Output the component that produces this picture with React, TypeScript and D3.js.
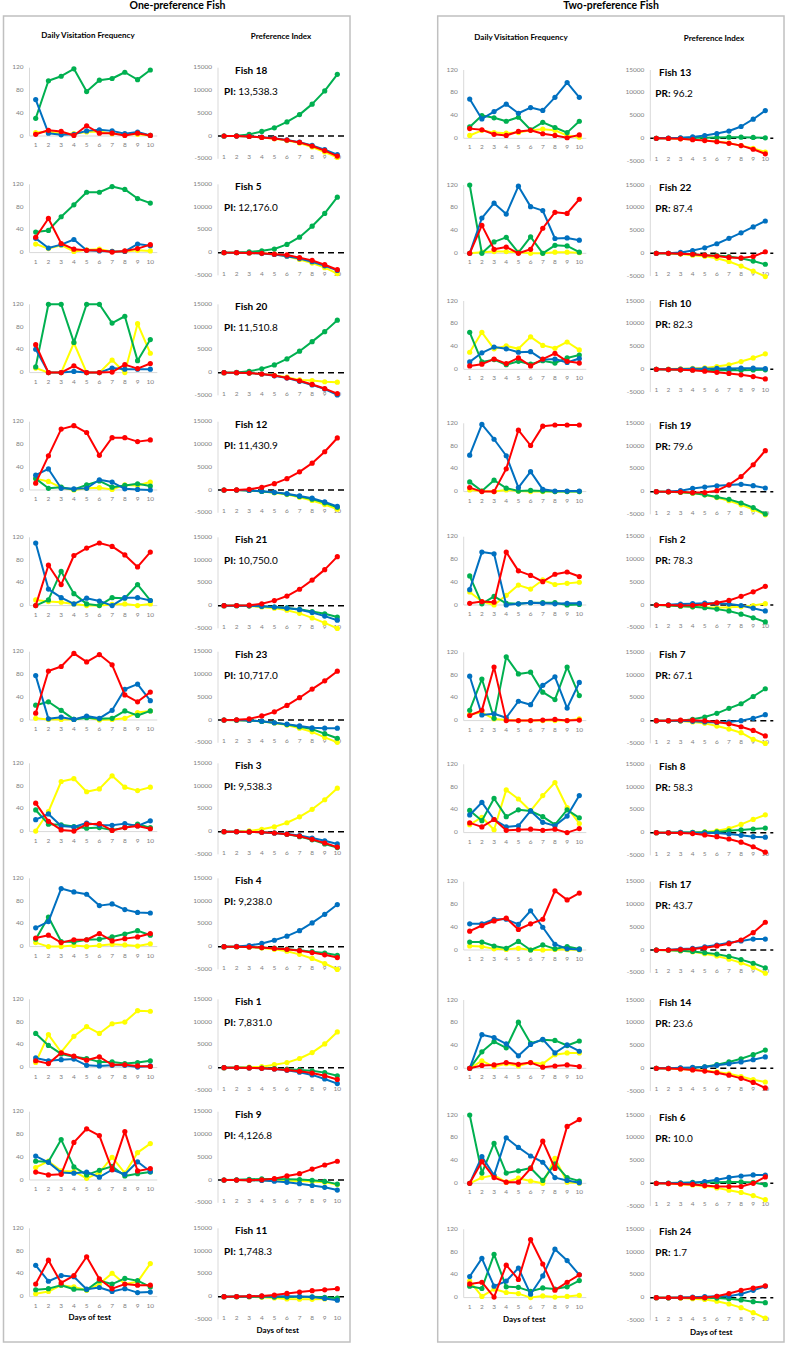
import React from "react";
import * as d3 from "d3";

const days = [1, 2, 3, 4, 5, 6, 7, 8, 9, 10];
const dvfTicks = [0, 40, 80, 120];
const piTicks = [-5000, 0, 5000, 10000, 15000];

const leftFish = ["Fish 18", "Fish 5", "Fish 20", "Fish 12", "Fish 21", "Fish 23", "Fish 3", "Fish 4", "Fish 1", "Fish 9", "Fish 11"];
const leftIndex = ["13,538.3", "12,176.0", "11,510.8", "11,430.9", "10,750.0", "10,717.0", "9,538.3", "9,238.0", "7,831.0", "4,126.8", "1,748.3"];
const rightFish = ["Fish 13", "Fish 22", "Fish 10", "Fish 19", "Fish 2", "Fish 7", "Fish 8", "Fish 17", "Fish 14", "Fish 6", "Fish 24"];
const rightIndex = ["96.2", "87.4", "82.3", "79.6", "78.3", "67.1", "58.3", "43.7", "23.6", "10.0", "1.7"];

// rows: left fish (18,5,20,12,21,23,3,4,1,9,11) then right fish (13,22,10,19,2,7,8,17,14,6,24)
const dvfBlue = [
  [64,5,2,3,9,11,9,4,7,1],
  [25,8,14,23,4,3,2,2,15,12],
  [41,0,0,2,0,0,8,6,6,6],
  [26,37,3,2,3,18,14,2,1,0],
  [110,29,14,3,13,8,0,14,14,9],
  [78,2,5,1,7,3,17,54,63,34],
  [21,31,10,8,15,11,11,14,10,19],
  [33,44,102,96,92,72,75,65,60,59],
  [17,12,14,15,4,3,4,4,1,3],
  [42,31,13,12,14,5,18,10,32,15],
  [55,27,37,35,13,16,9,14,7,8],
  [69,34,47,60,44,54,49,72,98,72],
  [0,62,88,69,118,82,75,26,27,23],
  [13,29,39,36,30,31,17,18,12,19],
  [64,118,92,63,7,35,4,1,1,1],
  [27,93,90,0,2,4,3,2,3,3],
  [78,10,12,5,34,28,62,77,22,67],
  [31,53,23,10,12,38,18,12,29,65],
  [46,46,54,54,45,69,40,10,2,1],
  [0,59,54,43,22,42,51,27,41,30],
  [0,47,14,80,63,48,37,10,5,1],
  [37,69,20,29,52,6,38,85,65,40],
];
const dvfGreen = [
  [31,97,105,118,78,98,101,112,99,116],
  [36,39,63,84,106,106,116,111,95,87],
  [10,120,120,53,120,120,87,99,21,58],
  [20,3,5,1,9,16,5,8,11,7],
  [0,10,60,21,3,0,14,13,37,9],
  [26,32,17,1,4,2,3,16,8,16],
  [38,13,12,9,6,7,3,7,13,7],
  [13,52,9,8,12,13,17,22,28,20],
  [60,39,24,19,16,10,10,7,9,12],
  [33,32,71,23,9,17,24,7,11,14],
  [12,14,20,13,12,28,22,32,28,17],
  [20,40,36,30,37,15,28,19,10,30],
  [120,0,20,28,1,29,0,14,13,2],
  [65,13,17,8,14,9,15,11,20,25],
  [17,1,20,6,1,2,1,0,0,0],
  [51,2,15,3,2,4,4,4,0,1],
  [18,73,4,112,82,85,50,37,94,44],
  [39,21,60,28,40,38,28,14,40,26],
  [14,14,7,3,15,0,9,2,6,2],
  [0,29,47,36,81,44,50,49,40,48],
  [120,18,70,18,22,27,5,34,10,4],
  [20,16,76,19,18,11,17,15,19,30],
];
const dvfYellow = [
  [6,8,4,4,7,8,4,3,3,1],
  [15,7,13,2,5,6,2,2,4,3],
  [8,0,0,52,0,0,22,0,86,34],
  [20,15,4,0,3,4,1,9,8,14],
  [10,7,6,3,0,0,2,3,0,3],
  [3,1,1,1,5,0,1,3,13,16],
  [1,35,88,93,70,75,98,78,72,78],
  [7,0,0,2,0,2,4,3,1,5],
  [9,58,27,55,72,60,77,80,100,99],
  [22,33,16,15,3,13,40,12,48,64],
  [5,9,20,17,11,22,41,22,26,58],
  [5,14,10,9,10,14,16,14,5,2],
  [0,2,3,3,2,0,0,2,2,1],
  [30,65,36,41,36,57,42,37,48,34],
  [3,1,0,3,1,0,0,0,0,0],
  [23,6,0,17,35,28,44,36,38,40],
  [11,14,3,1,0,0,0,0,0,3],
  [14,27,5,75,59,38,65,88,44,16],
  [7,6,2,1,3,0,0,1,1,0],
  [0,13,3,8,4,10,8,24,27,27],
  [0,10,14,2,9,4,0,44,2,0],
  [29,2,15,9,7,0,3,1,2,4],
];
const dvfRed = [
  [3,10,8,1,18,5,5,1,5,1],
  [27,60,16,6,4,4,1,3,7,14],
  [49,0,0,12,0,0,1,14,7,16],
  [12,60,107,113,101,61,92,92,85,88],
  [0,71,37,88,101,110,104,89,68,94],
  [12,86,94,117,102,115,97,44,32,49],
  [50,18,3,1,13,14,2,7,10,5],
  [15,20,7,12,12,23,10,14,17,23],
  [12,7,26,20,13,19,5,5,3,2],
  [14,9,10,66,90,78,18,85,16,20],
  [22,64,24,37,70,31,14,22,20,20],
  [17,15,7,5,12,14,8,5,1,6],
  [0,49,7,11,0,7,44,72,70,95],
  [6,9,18,10,20,6,18,28,14,11],
  [7,0,0,40,108,81,115,117,117,117],
  [3,6,5,93,60,52,41,54,58,50],
  [9,18,94,0,0,0,1,2,0,1],
  [17,10,23,4,5,6,4,6,0,7],
  [33,43,51,56,36,46,54,104,88,100],
  [0,5,6,10,7,10,2,4,6,3],
  [0,38,10,2,2,26,74,26,100,112],
  [24,27,1,57,32,102,59,13,27,40],
];

const piBlue = [
  [0,-20,-80,-250,-500,-850,-1350,-2050,-3000,-4100],
  [0,-20,-80,-200,-400,-800,-1300,-2000,-2900,-3900],
  [0,-20,-100,-300,-700,-1200,-1900,-2700,-3600,-4900],
  [0,-20,-100,-250,-500,-800,-1300,-1800,-2600,-3600],
  [0,0,-50,-150,-300,-550,-900,-1500,-2300,-3200],
  [0,-20,-80,-250,-600,-900,-1300,-1700,-1800,-1800],
  [0,-20,-60,-150,-300,-500,-850,-1400,-2000,-2700],
  [0,50,250,700,1400,2300,3500,5200,7100,9238],
  [0,-20,-60,-150,-300,-600,-1000,-1600,-2500,-3500],
  [0,0,-50,-100,-250,-500,-800,-1200,-1600,-2200],
  [0,20,50,100,100,100,50,-100,-400,-800],
  [0,50,100,300,600,1050,1600,2600,4200,6100],
  [0,20,200,600,1200,2100,3300,4500,5800,7100],
  [0,0,50,100,150,200,200,250,250,150],
  [0,50,200,700,1000,1280,1450,1600,1300,800],
  [0,50,200,300,400,400,200,-100,-700,-1300],
  [0,0,-50,-150,-300,-400,-300,0,500,1300],
  [0,0,50,0,-100,-100,-300,-600,-900,-1000],
  [0,50,200,350,700,1100,1600,2000,2400,2400],
  [0,0,100,200,300,650,1000,1400,1900,2500],
  [0,0,50,100,400,800,1300,1600,1850,1800],
  [0,0,50,100,200,300,300,800,1600,2500],
];
const piGreen = [
  [0,50,350,1000,1800,3100,4700,7000,9900,13538],
  [0,30,150,400,800,1800,3400,5800,8600,12176],
  [0,50,300,850,1700,3000,4700,6800,9000,11511],
  [0,-20,-100,-300,-550,-900,-1400,-2000,-2800,-3800],
  [0,0,-50,-150,-300,-500,-800,-1300,-1800,-2500],
  [0,-30,-100,-300,-600,-1000,-1500,-2000,-3000,-4000],
  [0,-20,-60,-150,-300,-600,-1100,-1800,-2700,-3500],
  [0,-20,-80,-200,-350,-550,-800,-1100,-1400,-1900],
  [0,-10,-50,-100,-200,-350,-500,-700,-1100,-1800],
  [0,50,150,250,200,150,100,-50,-300,-900],
  [0,0,-20,-50,-100,-100,-50,-50,-150,-300],
  [0,0,50,100,150,200,250,250,200,100],
  [0,0,-100,-200,-400,-500,-700,-1100,-1700,-2400],
  [0,-50,-100,-150,-200,-200,-200,-200,-150,-100],
  [0,-50,-150,-300,-700,-1200,-1700,-2500,-3500,-4900],
  [0,-100,-250,-400,-600,-900,-1300,-2000,-2800,-3700],
  [0,0,0,300,800,1600,2700,3700,5300,7000],
  [0,0,50,50,100,150,400,600,800,1000],
  [0,-50,-150,-300,-600,-900,-1400,-2100,-2900,-3900],
  [0,0,50,150,350,800,1400,2100,3000,4000],
  [0,50,100,200,200,250,300,300,200,-300],
  [0,-50,0,0,-50,-100,-250,-500,-900,-1100],
];
const piYellow = [
  [0,-20,-100,-300,-600,-1000,-1550,-2400,-3500,-4700],
  [0,-20,-80,-150,-350,-800,-1500,-2300,-3300,-4600],
  [0,-20,-100,-300,-600,-1000,-1600,-1750,-2000,-2100],
  [0,-20,-100,-300,-600,-1000,-1600,-2300,-3200,-4200],
  [0,-30,-100,-300,-550,-1000,-1700,-2700,-3800,-5000],
  [0,-30,-100,-300,-650,-1100,-1800,-2600,-3800,-4900],
  [0,30,150,500,1050,1950,3250,4900,7000,9538],
  [0,-30,-100,-300,-600,-1000,-1700,-2600,-3700,-5000],
  [0,30,100,200,650,1100,2000,3300,5200,7831],
  [0,0,-50,-50,-100,-150,-200,-300,-500,-1000],
  [0,-20,-50,-150,-300,-500,-550,-600,-500,-400],
  [0,-10,-80,-250,-450,-700,-1050,-1600,-2200,-3000],
  [0,-50,-150,-400,-650,-1100,-1800,-2800,-3900,-5100],
  [0,50,100,200,300,600,1000,1700,2500,3400],
  [0,-50,-150,-350,-700,-1300,-2000,-2900,-3900,-5100],
  [0,-50,-200,-400,-500,-600,-500,-400,-100,300],
  [0,-50,-100,-300,-600,-1200,-1850,-2650,-4100,-5000],
  [0,0,-50,50,150,400,900,1800,2900,3900],
  [0,-50,-150,-400,-800,-1300,-2000,-2800,-3800,-5100],
  [0,-50,-150,-300,-500,-800,-1200,-1800,-2500,-3000],
  [0,-50,-200,-350,-600,-1000,-1500,-2000,-2700,-3600],
  [0,-50,-100,-250,-400,-800,-1400,-2200,-3300,-4500],
];
const piRed = [
  [0,-20,-100,-300,-550,-900,-1400,-2200,-3200,-4400],
  [0,-20,-80,-150,-350,-500,-1100,-1700,-2650,-3750],
  [0,-20,-100,-300,-650,-1150,-1800,-2600,-3500,-4600],
  [0,30,150,600,1400,2500,4000,5900,8400,11431],
  [0,30,100,400,1100,2100,3600,5600,7900,10750],
  [0,50,250,900,1800,3200,4900,6800,8600,10717],
  [0,-20,-60,-150,-300,-550,-1000,-1700,-2500,-3400],
  [0,-20,-80,-200,-400,-600,-900,-1300,-1800,-2400],
  [0,-20,-60,-150,-300,-500,-800,-1200,-1800,-2600],
  [0,0,-50,50,300,900,1400,2400,3300,4127],
  [0,20,80,150,350,700,1000,1300,1500,1748],
  [0,-20,-100,-300,-500,-750,-1100,-1600,-2400,-3400],
  [0,0,-100,-200,-400,-600,-900,-1000,-700,350],
  [0,-50,-100,-200,-400,-650,-900,-1200,-1600,-2100],
  [0,-50,-100,-200,-200,200,1500,3300,5900,9000],
  [0,-20,-100,-50,100,500,1000,1900,2900,4100],
  [0,0,100,100,-50,-300,-700,-1350,-2150,-3350],
  [0,-50,-100,-200,-500,-900,-1400,-2100,-3100,-4300],
  [0,0,100,200,500,900,1400,2200,3800,6100],
  [0,-50,-150,-350,-600,-950,-1500,-2200,-3100,-4300],
  [0,-50,-150,-250,-500,-700,-700,-700,0,1400],
  [0,0,0,0,0,300,900,1600,2100,2600],
];

const COLORS = { yellow: "#FFFF00", green: "#00B050", blue: "#0070C0", red: "#FF0000" };
const FONT = "Lato, 'Liberation Sans', sans-serif";
const TICK = "#7f7f7f";
const AXIS = "#d9d9d9";
const DVF_H = 68.3;
const PI_H = 91.1;

const LEFT = {
  dvfAxis: 29.5, dvf0: 35.7, dvf1: 150.3,
  piAxis: 218, pi0: 224, pi1: 337.3,
  fishX: 235, idxX: 224, idxLabel: "PI:",
  tops: [67.7, 184.3, 304.3, 421.7, 537.3, 651.7, 763.3, 878.3, 999.3, 1111.7, 1228.3],
};
const RIGHT = {
  dvfAxis: 463.7, dvf0: 469.7, dvf1: 579.3,
  piAxis: 650.3, pi0: 656.3, pi1: 765.3,
  fishX: 659, idxX: 655.3, idxLabel: "PR:",
  tops: [70, 185, 301, 423.3, 536.7, 652.3, 764.3, 881.7, 1000, 1115, 1229.3],
};

type Side = typeof LEFT;

function Series({ values, x, y, color }: { values: number[]; x: d3.ScaleLinear<number, number>; y: d3.ScaleLinear<number, number>; color: string }) {
  const line = d3.line<number>().x((_, i) => x(days[i])).y((d) => y(d));
  return (
    <g>
      <path d={line(values) || ""} fill="none" stroke={color} strokeWidth={2} strokeLinejoin="round" />
      {values.map((v, i) => (
        <circle key={i} cx={x(days[i])} cy={y(v)} r={2.6} fill={color} />
      ))}
    </g>
  );
}

function Row({ side, row, dataIdx, fish, idx }: { side: Side; row: number; dataIdx: number; fish: string; idx: string }) {
  const top = side.tops[row];
  const xd = d3.scaleLinear().domain([1, 10]).range([side.dvf0, side.dvf1]);
  const yd = d3.scaleLinear().domain([0, 120]).range([top + DVF_H, top]);
  const xp = d3.scaleLinear().domain([1, 10]).range([side.pi0, side.pi1]);
  const yp = d3.scaleLinear().domain([-5000, 15000]).range([top + PI_H, top]);
  const dvfSeries: [number[], string][] = [
    [dvfYellow[dataIdx], COLORS.yellow],
    [dvfGreen[dataIdx], COLORS.green],
    [dvfBlue[dataIdx], COLORS.blue],
    [dvfRed[dataIdx], COLORS.red],
  ];
  const piSeries: [number[], string][] = [
    [piYellow[dataIdx], COLORS.yellow],
    [piGreen[dataIdx], COLORS.green],
    [piBlue[dataIdx], COLORS.blue],
    [piRed[dataIdx], COLORS.red],
  ];
  return (
    <g>
      {/* DVF axes */}
      <line x1={side.dvfAxis} x2={side.dvfAxis} y1={yd(120)} y2={yd(0)} stroke={AXIS} strokeWidth={1} />
      <line x1={side.dvfAxis} x2={side.dvf1 + 7} y1={yd(0)} y2={yd(0)} stroke={AXIS} strokeWidth={1} />
      {dvfTicks.map((t) => (
        <text key={t} x={side.dvfAxis - 6} y={yd(t)} textAnchor="end" dominantBaseline="middle" fontSize={6.5} fill={TICK} fontFamily={FONT}>{t}</text>
      ))}
      {days.map((d) => (
        <text key={d} x={xd(d)} y={yd(0) + 9.3} textAnchor="middle" dominantBaseline="middle" fontSize={6.5} fill={TICK} fontFamily={FONT}>{d}</text>
      ))}
      {dvfSeries.map(([v, c], i) => (
        <Series key={i} values={v} x={xd} y={yd} color={c} />
      ))}
      {/* PI axes */}
      <line x1={side.piAxis} x2={side.piAxis} y1={yp(15000)} y2={yp(-5000)} stroke={AXIS} strokeWidth={1} />
      {piTicks.map((t) => (
        <text key={t} x={side.piAxis - 6} y={yp(t)} textAnchor="end" dominantBaseline="middle" fontSize={6.5} fill={TICK} fontFamily={FONT}>{t}</text>
      ))}
      {days.map((d) => (
        <text key={d} x={xp(d)} y={yp(-5000) - 1.5} textAnchor="middle" dominantBaseline="middle" fontSize={6.5} fill={TICK} fontFamily={FONT}>{d}</text>
      ))}
      <line x1={side.piAxis} x2={side.pi1 + 8} y1={yp(0)} y2={yp(0)} stroke="#000" strokeWidth={1.5} strokeDasharray="6 4" />
      {piSeries.map(([v, c], i) => (
        <Series key={i} values={v} x={xp} y={yp} color={c} />
      ))}
      <text x={side.fishX} y={top + 3.5} dominantBaseline="middle" fontSize={10} fontWeight="bold" fill="#000" fontFamily={FONT}>{fish}</text>
      <text x={side.idxX} y={top + 24} dominantBaseline="middle" fontSize={10} fill="#000" fontFamily={FONT}>
        <tspan fontWeight="bold">{side.idxLabel}</tspan>
        <tspan> {idx}</tspan>
      </text>
    </g>
  );
}

export default function App() {
  const titleStyle = { fontFamily: FONT, fontWeight: "bold" as const };
  return (
    <svg width={787} height={1346} style={{ position: "absolute", left: 0, top: 0, background: "#fff" }}>
      <rect x={0} y={0} width={787} height={1346} fill="#fff" />
      <rect x={3.5} y={16} width={346.5} height={1326} fill="none" stroke="#c0c0c0" strokeWidth={1.5} />
      <rect x={437.7} y={16} width={346.3} height={1326} fill="none" stroke="#c0c0c0" strokeWidth={1.5} />
      <text x={177.5} y={6} textAnchor="middle" dominantBaseline="middle" fontSize={10.5} {...titleStyle}>One-preference Fish</text>
      <text x={611} y={6} textAnchor="middle" dominantBaseline="middle" fontSize={10.5} {...titleStyle}>Two-preference Fish</text>
      <text x={88} y={36} textAnchor="middle" dominantBaseline="middle" fontSize={8} {...titleStyle}>Daily Visitation Frequency</text>
      <text x={281} y={37} textAnchor="middle" dominantBaseline="middle" fontSize={8} {...titleStyle}>Preference Index</text>
      <text x={521} y={38} textAnchor="middle" dominantBaseline="middle" fontSize={8} {...titleStyle}>Daily Visitation Frequency</text>
      <text x={714} y={39} textAnchor="middle" dominantBaseline="middle" fontSize={8} {...titleStyle}>Preference Index</text>
      {leftFish.map((f, i) => (
        <Row key={f} side={LEFT} row={i} dataIdx={i} fish={f} idx={leftIndex[i]} />
      ))}
      {rightFish.map((f, i) => (
        <Row key={f} side={RIGHT} row={i} dataIdx={i + leftFish.length} fish={f} idx={rightIndex[i]} />
      ))}
      <text x={89.7} y={1317.7} textAnchor="middle" dominantBaseline="middle" fontSize={8} {...titleStyle}>Days of test</text>
      <text x={277.7} y={1331} textAnchor="middle" dominantBaseline="middle" fontSize={8} {...titleStyle}>Days of test</text>
      <text x={524.3} y={1320.3} textAnchor="middle" dominantBaseline="middle" fontSize={8} {...titleStyle}>Days of test</text>
      <text x={711.3} y={1332.7} textAnchor="middle" dominantBaseline="middle" fontSize={8} {...titleStyle}>Days of test</text>
    </svg>
  );
}
